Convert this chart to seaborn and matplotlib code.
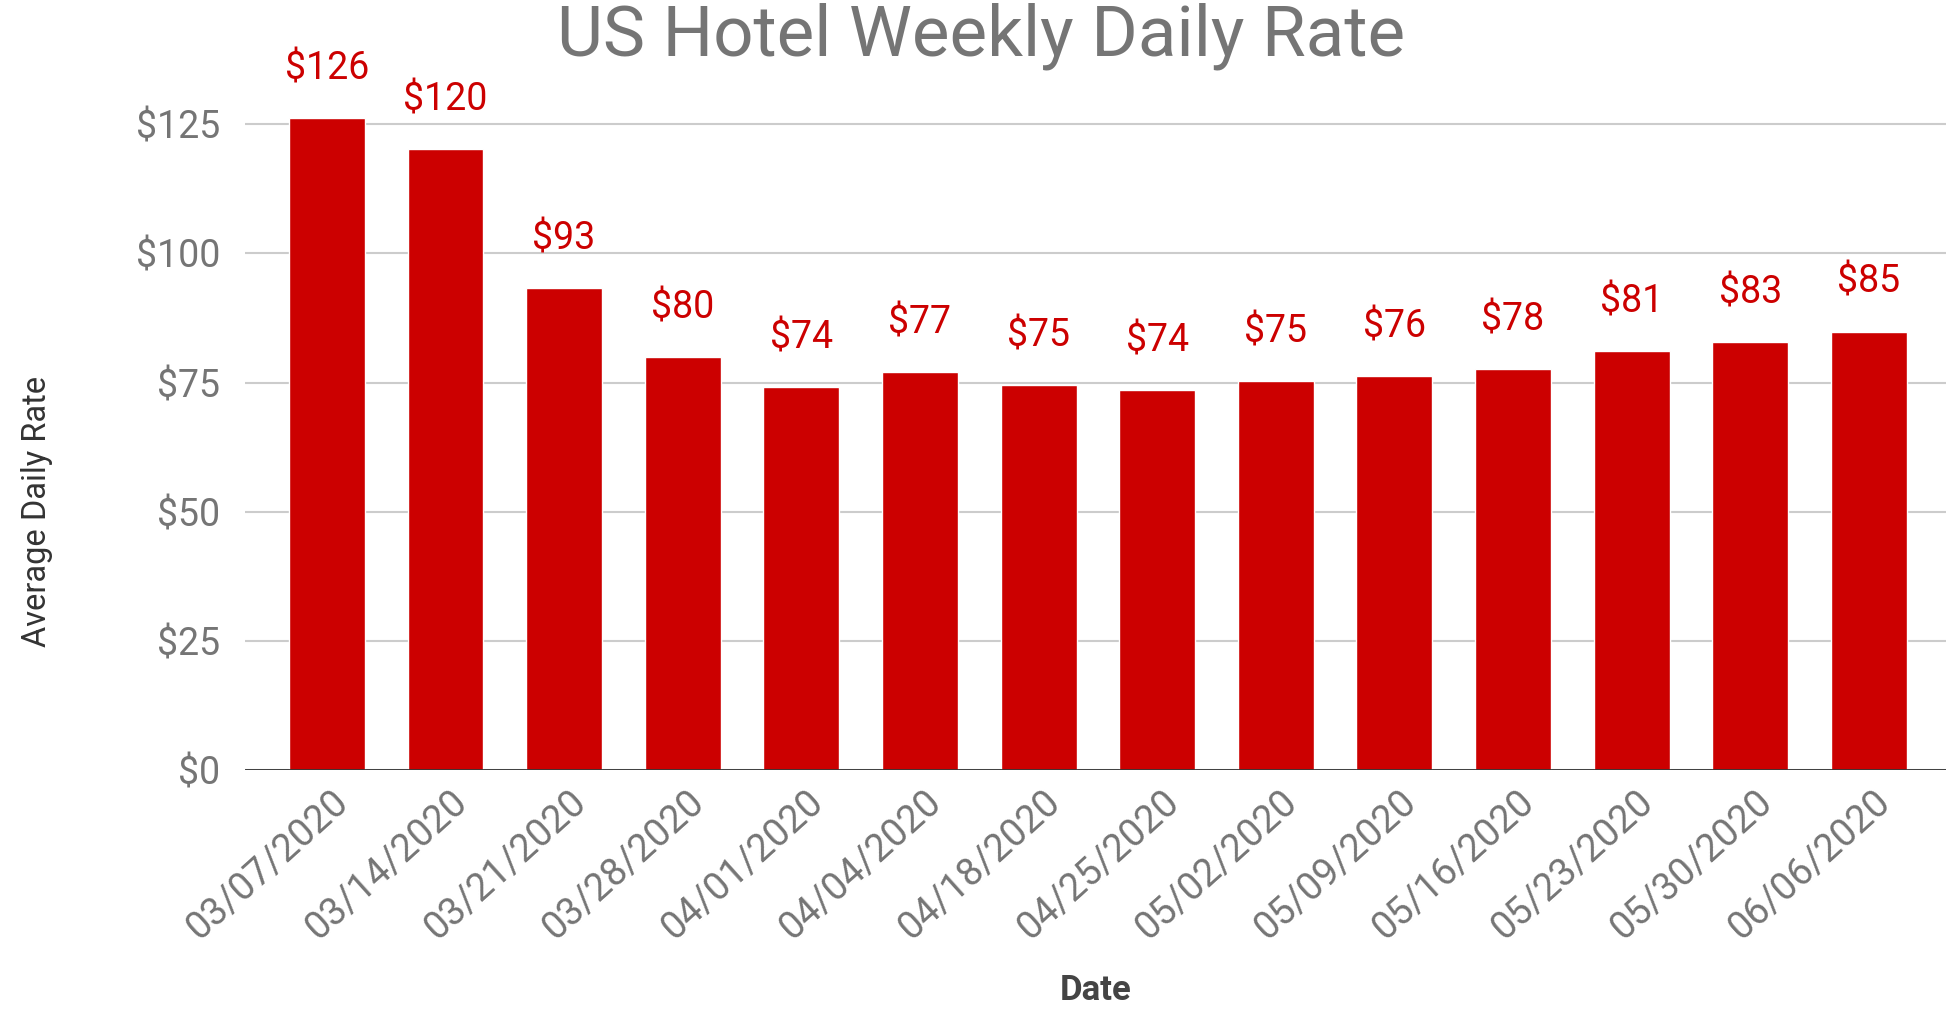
import matplotlib
matplotlib.use("Agg")
import matplotlib.pyplot as plt
import matplotlib.transforms as mtransforms
import seaborn as sns
import pandas as pd

# data
dates = ["03/07/2020", "03/14/2020", "03/21/2020", "03/28/2020", "04/01/2020",
         "04/04/2020", "04/18/2020", "04/25/2020", "05/02/2020", "05/09/2020",
         "05/16/2020", "05/23/2020", "05/30/2020", "06/06/2020"]
rates = [126.2, 120.2, 93.4, 79.9, 74.1, 77.0, 74.6, 73.6, 75.3, 76.3,
         77.6, 81.1, 82.8, 84.9]
yticks = [0, 25, 50, 75, 100, 125]

df = pd.DataFrame({"date": dates, "rate": rates})

sns.set_theme(style="white")
plt.rcParams["font.family"] = ["Roboto", "DejaVu Sans"]

grey = "#757575"
red = "#cc0000"

fig = plt.figure(figsize=(19.54, 10.11), dpi=100)
ax = fig.add_axes([245 / 1954, 0.238, 1701 / 1954, 0.68])

sns.barplot(data=df, x="date", y="rate", color=red, saturation=1,
            width=0.64, ax=ax, zorder=3)

for i, v in enumerate(rates):
    ax.annotate(f"${v:.0f}", (i, v), xytext=(0, 22), textcoords="offset points",
                ha="center", va="bottom", color=red, fontsize=27,
                annotation_clip=False)

ax.set_ylim(0, 133)
ax.set_yticks(yticks)
ax.set_yticklabels([f"${t}" for t in yticks])
ax.grid(axis="y", color="#cccccc", linewidth=1.5, zorder=0)
ax.axhline(0, color="#333333", linewidth=2, zorder=4)
ax.set_xlim(-0.69, 13.65)
for s in ax.spines.values():
    s.set_visible(False)

ax.tick_params(axis="y", labelsize=27, labelcolor=grey, length=0, pad=18)
ax.tick_params(axis="x", labelsize=27.5, labelcolor=grey, length=0, pad=19)
shift = mtransforms.ScaledTranslation(17 / 100, 0, fig.dpi_scale_trans)
for lab in ax.get_xticklabels():
    lab.set_rotation(42)
    lab.set_ha("right")
    lab.set_va("center")
    lab.set_rotation_mode("anchor")
    lab.set_transform(lab.get_transform() + shift)

ax.set_xlabel("")
ax.set_ylabel("")
fig.text(245 / 1954 + 0.5 * 1701 / 1954, 1 - 991 / 1011, "Date", fontsize=25,
         fontweight="bold", color="#444444", ha="center", va="center")
fig.text(37 / 1954, 1 - 511 / 1011, "Average Daily Rate", fontsize=23.5,
         color="#333333", rotation=90, ha="center", va="center")
fig.text(0.502, 1 - 36 / 1011, "US Hotel Weekly Daily Rate", fontsize=51,
         color=grey, ha="center", va="center")

fig.savefig("out.png", dpi=100, facecolor="white")
